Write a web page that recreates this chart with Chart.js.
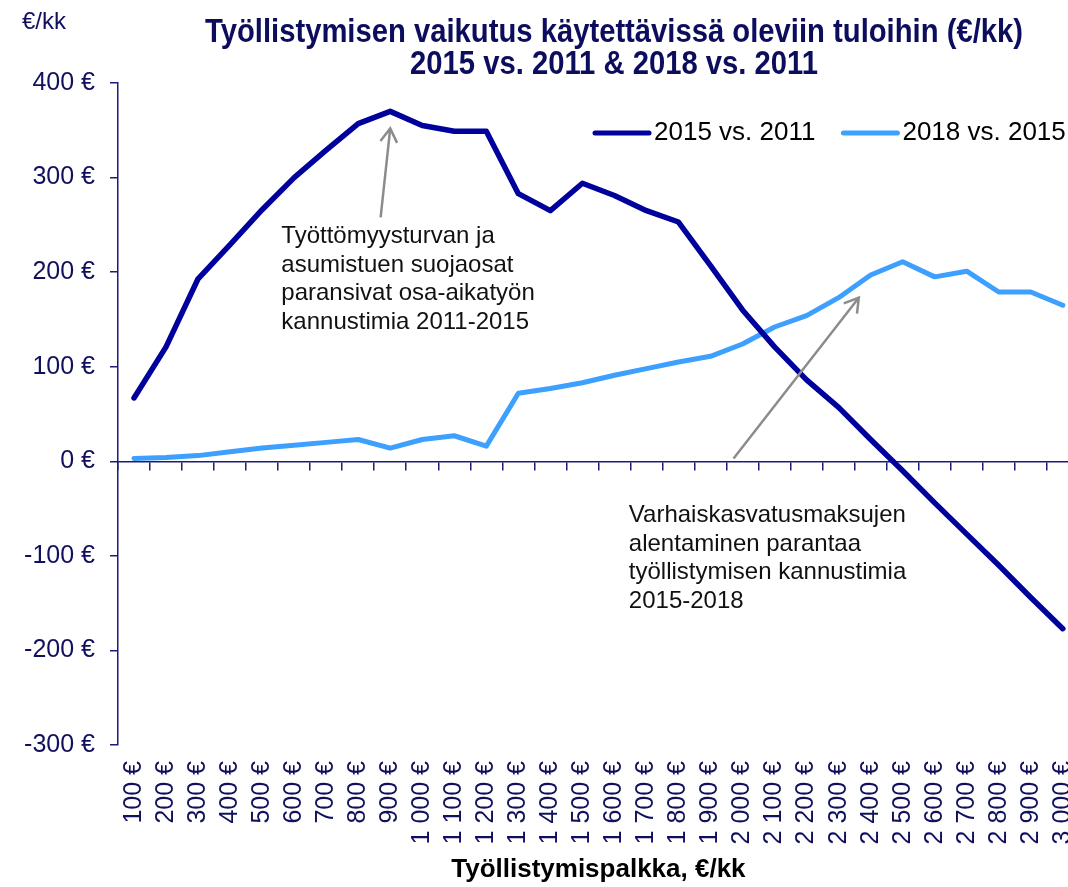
<!DOCTYPE html>
<html>
<head>
<meta charset="utf-8">
<script src="https://cdn.jsdelivr.net/npm/chart.js@4.4.1/dist/chart.umd.min.js"></script>
<style>
  html, body { margin: 0; padding: 0; background: #fff; overflow: hidden; }
  #wrap { width: 1068px; height: 887px; overflow: hidden; }
  canvas { display: block; }
</style>
</head>
<body>
<div id="wrap"><canvas id="lineChart" width="1101" height="887" style="width:1101px;height:887px"></canvas></div>
<script>
//data
var palkka = ['100 €','200 €','300 €','400 €','500 €','600 €','700 €','800 €','900 €','1 000 €',
  '1 100 €','1 200 €','1 300 €','1 400 €','1 500 €','1 600 €','1 700 €','1 800 €','1 900 €','2 000 €',
  '2 100 €','2 200 €','2 300 €','2 400 €','2 500 €','2 600 €','2 700 €','2 800 €','2 900 €','3 000 €'];
var v2015vs2011 = [67, 121, 193, 229, 266, 300, 329, 357, 370, 355, 349, 349, 283, 265, 294, 281, 265, 253, 207, 160, 121, 86, 57, 23, -10, -44, -77, -110, -144, -177];
var v2018vs2015 = [3, 4, 6, 10, 14, 17, 20, 23, 14, 23, 27, 16, 72, 77, 83, 91, 98, 105, 111, 124, 142, 154, 173, 197, 211, 195, 201, 179, 179, 165];
var seriesNames = ['2015 vs. 2011', '2018 vs. 2015'];
var yTicks = [-300, -200, -100, 0, 100, 200, 300, 400];

var titleLines = ['Työllistymisen vaikutus käytettävissä oleviin tuloihin (€/kk)', '2015 vs. 2011 & 2018 vs. 2011'];
var note1 = ['Työttömyysturvan ja', 'asumistuen suojaosat', 'paransivat osa-aikatyön', 'kannustimia 2011-2015'];
var note2 = ['Varhaiskasvatusmaksujen', 'alentaminen parantaa', 'työllistymisen kannustimia', '2015-2018'];

//colours
var navy = '#00009c';
var sky = '#3da0ff';
var axisCol = '#1c1c78';
var tickCol = '#10105e';

//annotation anchors, in data units (category index, €)
var notes = [
  { lines: note1, at: [4.6, 231], arrowFrom: [7.7, 258], arrowTo: [8.0, 352] },
  { lines: note2, at: [15.45, -64], arrowFrom: [18.72, 3], arrowTo: [22.63, 173] }
];

function arrow(ctx, x1, y1, x2, y2) {
  var a = Math.atan2(y2 - y1, x2 - x1);
  var h = 16, w = 0.55;
  ctx.beginPath();
  ctx.moveTo(x1, y1);
  ctx.lineTo(x2, y2);
  ctx.moveTo(x2 - h * Math.cos(a - w), y2 - h * Math.sin(a - w));
  ctx.lineTo(x2, y2);
  ctx.lineTo(x2 - h * Math.cos(a + w), y2 - h * Math.sin(a + w));
  ctx.stroke();
}

var extras = {
  id: 'extras',
  afterDatasetsDraw: function(chart) {
    var ctx = chart.ctx, xs = chart.scales.x, ys = chart.scales.y, area = chart.chartArea;
    ctx.save();
    // unit label
    ctx.fillStyle = tickCol;
    ctx.font = '24px "Liberation Sans", Arial, sans-serif';
    ctx.textAlign = 'left';
    ctx.textBaseline = 'middle';
    ctx.fillText('€/kk', 22, 22);
    // title, squeezed like a narrow face
    ctx.fillStyle = '#0d0d5e';
    ctx.font = 'bold 33px "Liberation Sans", Arial, sans-serif';
    ctx.textAlign = 'center';
    var sx = 818 / ctx.measureText(titleLines[0]).width;
    ctx.save();
    ctx.translate(614, 0);
    ctx.scale(sx, 1);
    ctx.fillText(titleLines[0], 0, 33);
    ctx.fillText(titleLines[1], 0, 65);
    ctx.restore();
    // legend
    var lx = area.left + 477, ly = area.top + 50;
    var sets = chart.data.datasets;
    ctx.font = '26px "Liberation Sans", Arial, sans-serif';
    ctx.textAlign = 'left';
    ctx.lineCap = 'round';
    for (var i = 0; i < sets.length; i++) {
      ctx.strokeStyle = sets[i].borderColor;
      ctx.lineWidth = 5;
      ctx.beginPath();
      ctx.moveTo(lx, ly);
      ctx.lineTo(lx + 54, ly);
      ctx.stroke();
      ctx.fillStyle = '#000';
      ctx.fillText(sets[i].label, lx + 59, ly);
      lx += 59 + ctx.measureText(sets[i].label).width + 28;
    }
    // notes and arrows
    ctx.lineCap = 'butt';
    ctx.strokeStyle = '#8c8c8c';
    ctx.lineWidth = 2.5;
    ctx.font = '24px "Liberation Sans", Arial, sans-serif';
    ctx.textBaseline = 'alphabetic';
    ctx.fillStyle = '#111';
    notes.forEach(function(n) {
      arrow(ctx, xs.getPixelForValue(n.arrowFrom[0]), ys.getPixelForValue(n.arrowFrom[1]),
                 xs.getPixelForValue(n.arrowTo[0]), ys.getPixelForValue(n.arrowTo[1]));
      var tx = xs.getPixelForValue(n.at[0]), ty = ys.getPixelForValue(n.at[1]);
      n.lines.forEach(function(s, k) { ctx.fillText(s, tx, ty + k * 28.8); });
    });
    ctx.restore();
  }
};

//chart
var ctxL = document.getElementById('lineChart').getContext('2d');
var myLineChart = new Chart(ctxL, {
  type: 'line',
  data: {
    labels: palkka,
    datasets: [{
      label: seriesNames[0],
      data: v2015vs2011,
      borderColor: navy,
      backgroundColor: navy,
      borderWidth: 5.5,
      pointRadius: 0,
      tension: 0,
      borderJoinStyle: 'round',
      borderCapStyle: 'round'
    }, {
      label: seriesNames[1],
      data: v2018vs2015,
      borderColor: sky,
      backgroundColor: sky,
      borderWidth: 5,
      pointRadius: 0,
      tension: 0,
      borderJoinStyle: 'round',
      borderCapStyle: 'round'
    }]
  },
  options: {
    responsive: false,
    animation: false,
    layout: { padding: { top: 83, left: 0, right: 12, bottom: 0 } },
    plugins: { legend: { display: false }, title: { display: false }, tooltip: { enabled: false } },
    scales: {
      x: {
        type: 'category',
        position: 'bottom',
        offset: true,
        border: { display: false },
        grid: { display: false },
        ticks: {
          autoSkip: false, minRotation: 90, maxRotation: 90, padding: 8,
          color: tickCol, font: { family: '"Liberation Sans", Arial, sans-serif', size: 25 }
        },
        title: {
          display: true, text: 'Työllistymispalkka, €/kk', color: '#000',
          font: { family: '"Liberation Sans", Arial, sans-serif', size: 26, weight: 'bold' },
          padding: { top: 0, bottom: 2 }
        },
        afterFit: function(s) { s.height = 142; }
      },
      x2: {
        type: 'category',
        position: { y: 0 },
        offset: true,
        border: { display: true, color: axisCol, width: 1.5 },
        grid: { display: true, drawOnChartArea: false, drawTicks: true, tickLength: 8, offset: true, color: axisCol, lineWidth: 1.5 },
        ticks: { display: false }
      },
      y: {
        min: -300, max: 400,
        afterBuildTicks: function(s) { s.ticks = yTicks.map(function(v) { return { value: v }; }); },
        border: { display: true, color: axisCol, width: 1.5 },
        grid: { display: true, drawOnChartArea: false, drawTicks: true, tickLength: 8, color: axisCol, lineWidth: 1.5 },
        ticks: {
          padding: 15, color: tickCol,
          font: { family: '"Liberation Sans", Arial, sans-serif', size: 25 },
          callback: function(v) { return v + ' €'; }
        },
        afterFit: function(s) { s.width = 118; }
      }
    }
  },
  plugins: [extras]
});
</script>
</body>
</html>
